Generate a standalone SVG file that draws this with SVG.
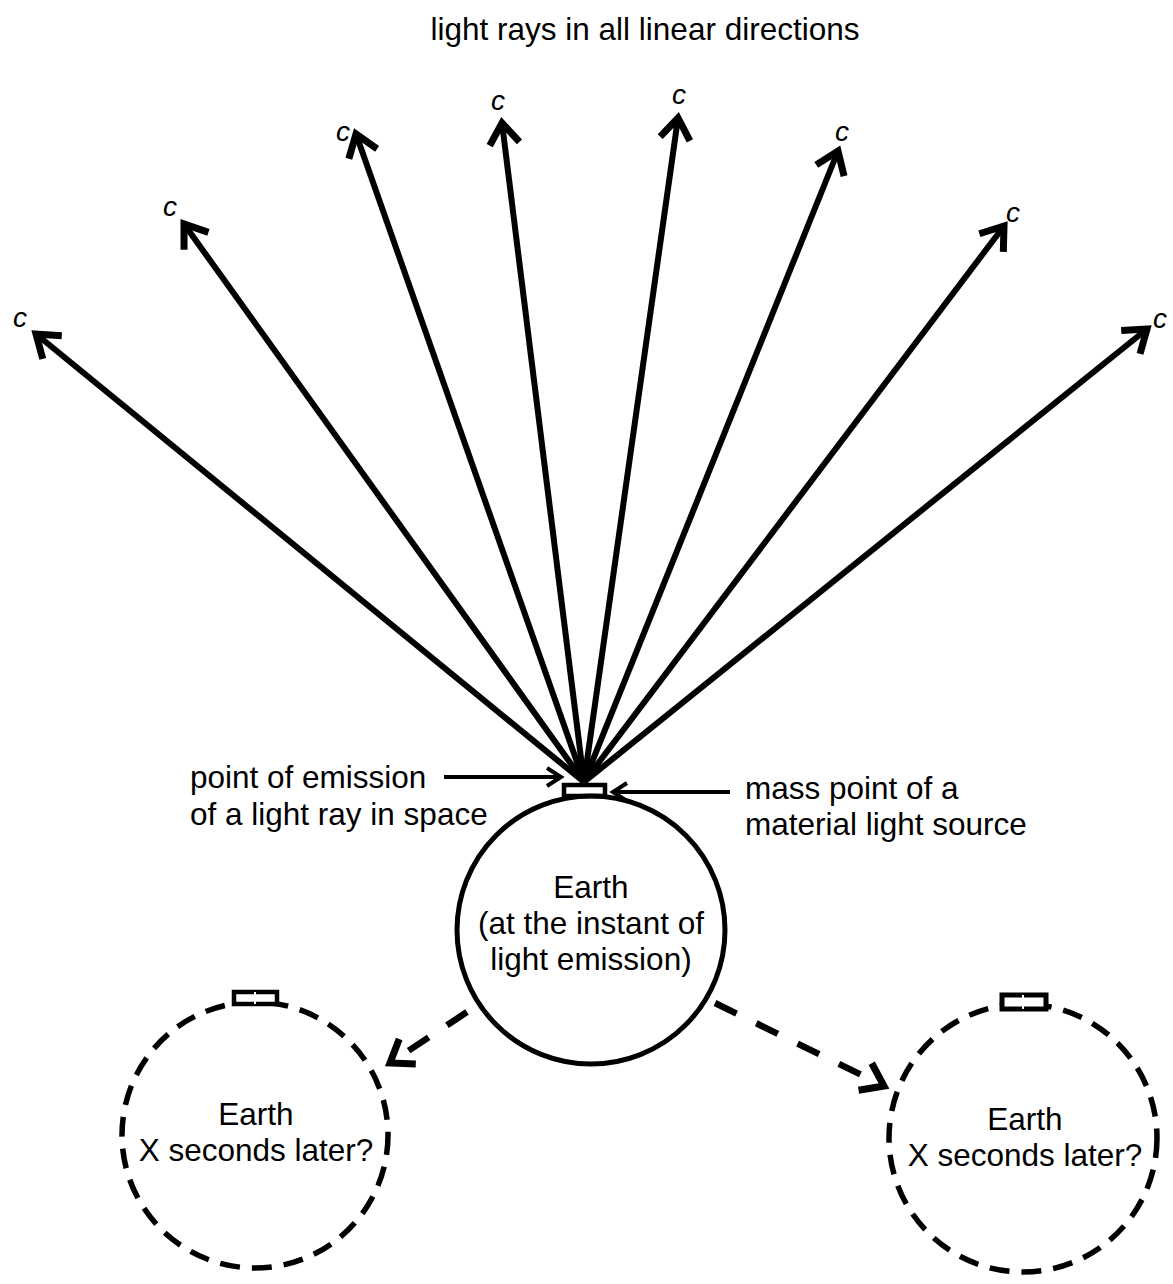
<svg xmlns="http://www.w3.org/2000/svg" width="1173" height="1284" viewBox="0 0 1173 1284">
<style>
text{font-family:"Liberation Sans",Arial,sans-serif;font-size:31.5px;fill:#000}
.c{font-style:italic;text-anchor:middle;font-size:28px}
.m{text-anchor:middle}
.ray{stroke:#000;stroke-width:6;fill:none;marker-end:url(#ah)}
.thin{stroke:#000;stroke-width:4;fill:none;marker-end:url(#ahs)}
.dash{stroke:#000;stroke-width:6.5;fill:none;stroke-dasharray:24 22;marker-end:url(#ah)}
.dc{stroke:#000;stroke-width:5.5;fill:none;stroke-dasharray:20 12}
</style>
<defs>
<marker id="ah" markerUnits="userSpaceOnUse" viewBox="-30 -20 40 40" refX="0" refY="0" markerWidth="40" markerHeight="40" orient="auto" overflow="visible">
<path d="M-21 -15 L0 0 L-21 15" stroke="#000" stroke-width="7" fill="none"/>
</marker>
<marker id="ahs" markerUnits="userSpaceOnUse" viewBox="-30 -20 40 40" refX="0" refY="0" markerWidth="40" markerHeight="40" orient="auto" overflow="visible">
<path d="M-14 -9 L0 0 L-14 9" stroke="#000" stroke-width="4" fill="none"/>
</marker>
</defs>
<text class="m" x="645" y="40">light rays in all linear directions</text>
<g id="connectors">
<line class="ray" x1="584" y1="782" x2="36" y2="334"/>
<line class="ray" x1="584" y1="782" x2="184" y2="224"/>
<line class="ray" x1="584" y1="782" x2="356" y2="134"/>
<line class="ray" x1="584" y1="782" x2="502" y2="123"/>
<line class="ray" x1="584" y1="782" x2="678" y2="118"/>
<line class="ray" x1="584" y1="782" x2="838" y2="151"/>
<line class="ray" x1="584" y1="782" x2="1004" y2="226"/>
<line class="ray" x1="584" y1="782" x2="1147" y2="329"/>
<line class="thin" x1="444" y1="777" x2="561" y2="777"/>
<line class="thin" x1="730" y1="792" x2="613" y2="792"/>
<line class="dash" x1="467" y1="1012" x2="390" y2="1063"/>
<line class="dash" x1="715" y1="1003" x2="884" y2="1086"/>
</g>
<g id="labels-c">
<text class="c" x="20" y="327">c</text>
<text class="c" x="170" y="216">c</text>
<text class="c" x="343" y="141">c</text>
<text class="c" x="498" y="110">c</text>
<text class="c" x="679" y="104">c</text>
<text class="c" x="842" y="141">c</text>
<text class="c" x="1013" y="222">c</text>
<text class="c" x="1160" y="328">c</text>
</g>
<g id="emission-label">
<text x="190" y="788">point of emission</text>
<text x="190" y="825">of a light ray in space</text>
</g>
<g id="mass-label">
<text x="745" y="799">mass point of a</text>
<text x="745" y="835">material light source</text>
</g>
<g id="emission-point">
<rect x="564" y="785" width="41" height="11" fill="#fff" stroke="#000" stroke-width="4.5"/>
</g>
<g id="earth">
<circle cx="591" cy="930" r="134" fill="none" stroke="#000" stroke-width="5"/>
<text class="m" x="591" y="898">Earth</text>
<text class="m" x="591" y="934">(at the instant of</text>
<text class="m" x="591" y="970">light emission)</text>
</g>
<g id="earth-left">
<circle class="dc" cx="255" cy="1135" r="133"/>
<rect x="234" y="992" width="43" height="12" fill="#fff" stroke="#000" stroke-width="4.5"/>
<line x1="255" y1="992" x2="255" y2="1004" stroke="#fff" stroke-width="2"/>
<text class="m" x="256" y="1125">Earth</text>
<text class="m" x="256" y="1161">X seconds later?</text>
</g>
<g id="earth-right">
<circle class="dc" cx="1023" cy="1138" r="134"/>
<rect x="1002" y="995" width="44" height="14" fill="#fff" stroke="#000" stroke-width="5"/>
<line x1="1023" y1="995" x2="1023" y2="1009" stroke="#fff" stroke-width="2"/>
<text class="m" x="1025" y="1130">Earth</text>
<text class="m" x="1025" y="1166">X seconds later?</text>
</g>
</svg>
